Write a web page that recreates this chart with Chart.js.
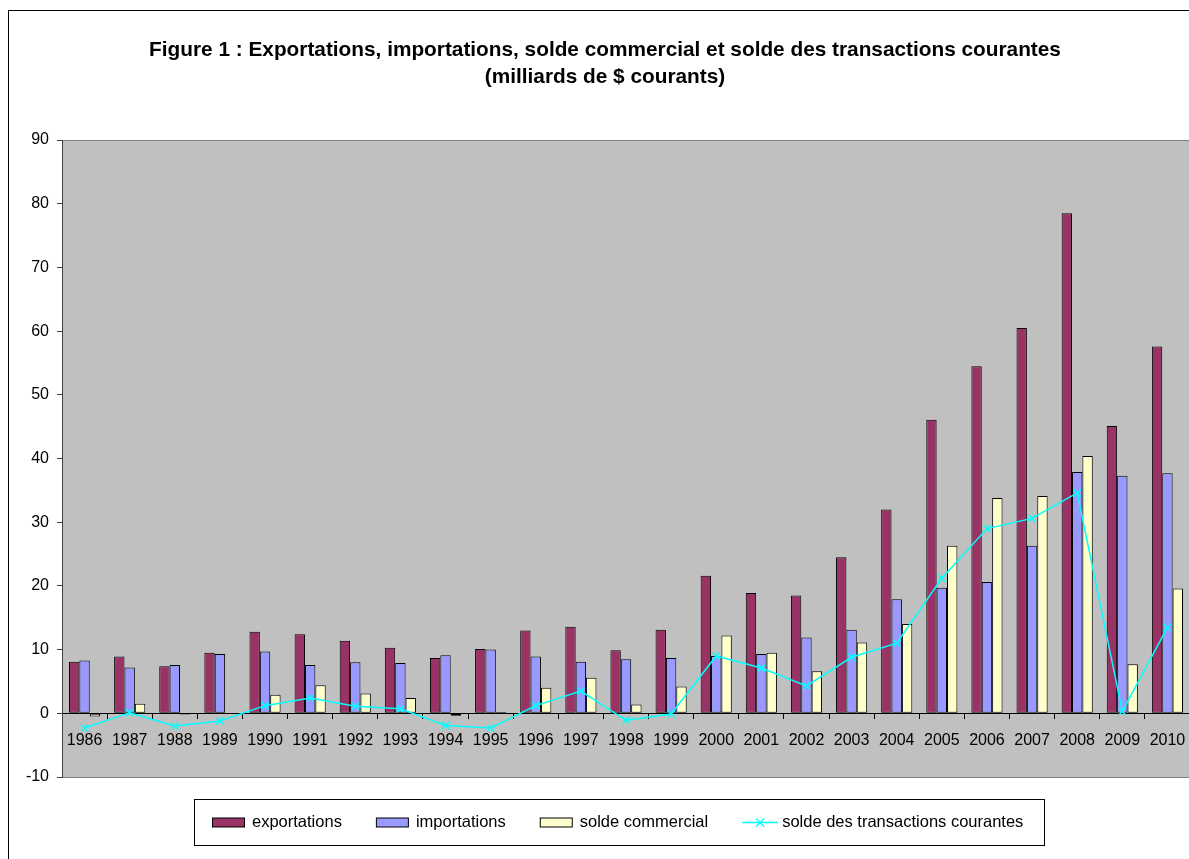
<!DOCTYPE html>
<html>
<head>
<meta charset="utf-8">
<script src="https://cdn.jsdelivr.net/npm/chart.js@4.4.1/dist/chart.umd.min.js"></script>
<style>
html, body { margin: 0; padding: 0; background: #fff; overflow: hidden; }
#wrap { width: 1210px; height: 859px; position: relative; }
</style>
</head>
<body>
<div id="wrap"><canvas id="c" width="1210" height="859"></canvas></div>
<script>
const years = ['1986','1987','1988','1989','1990','1991','1992','1993','1994','1995','1996','1997','1998','1999','2000','2001','2002','2003','2004','2005','2006','2007','2008','2009','2010'];
const exportations = [8.1, 8.9, 7.4, 9.5, 12.8, 12.4, 11.4, 10.3, 8.7, 10.1, 13.0, 13.6, 9.9, 13.1, 21.6, 18.9, 18.5, 24.5, 32.0, 46.1, 54.5, 60.5, 78.5, 45.1, 57.6];
const importations = [8.3, 7.2, 7.6, 9.3, 9.7, 7.6, 8.0, 7.9, 9.1, 10.0, 8.9, 8.1, 8.5, 8.7, 9.0, 9.3, 11.9, 13.1, 17.9, 19.7, 20.6, 26.3, 37.9, 37.3, 37.7];
const soldeCommercial = [-0.5, 1.5, -0.2, 0, 2.9, 4.4, 3.1, 2.4, -0.4, 0.2, 4.0, 5.6, 1.4, 4.2, 12.2, 9.5, 6.6, 11.1, 14.0, 26.3, 33.8, 34.1, 40.4, 7.7, 19.6];
const soldeTransactions = [-2.3, 0.1, -2.0, -1.2, 1.2, 2.4, 1.1, 0.7, -1.9, -2.3, 1.2, 3.5, -1.1, -0.1, 9.0, 7.1, 4.3, 8.8, 11.0, 21.2, 29.0, 30.6, 34.6, 0.3, 13.5];
const titleLines = ['Figure 1 : Exportations, importations, solde commercial et solde des transactions courantes', '(milliards de $ courants)'];
const seriesNames = ['exportations', 'importations', 'solde commercial', 'solde des transactions courantes'];
const yMin = -10, yMax = 90, yStep = 10;

const FONT = '"Liberation Sans", Arial, sans-serif';
const colors = ['#993366', '#9999FF', '#FFFFCC', '#00FFFF'];

const decorPlugin = {
  id: 'decor',
  beforeDraw(chart) {
    const ctx = chart.ctx, a = chart.chartArea;
    ctx.save();
    ctx.strokeStyle = '#000';
    ctx.lineWidth = 1;
    ctx.strokeRect(8.5, 10.5, 1193, 900);
    ctx.fillStyle = '#C0C0C0';
    ctx.fillRect(a.left, a.top, a.right - a.left, a.bottom - a.top);
    ctx.strokeStyle = '#808080';
    ctx.strokeRect(a.left + 0.5, a.top + 0.5, a.right - a.left, a.bottom - a.top);
    ctx.fillStyle = '#000';
    ctx.font = 'bold 20.8px ' + FONT;
    ctx.textAlign = 'center';
    ctx.textBaseline = 'middle';
    ctx.fillText(titleLines[0], 605, 50);
    ctx.fillText(titleLines[1], 605, 77);
    ctx.restore();
  },
  afterDraw(chart) {
    const ctx = chart.ctx;
    ctx.save();
    const bx = 194.5, by = 799.5, bw = 850, bh = 46;
    ctx.fillStyle = '#fff';
    ctx.fillRect(bx, by, bw, bh);
    ctx.strokeStyle = '#000';
    ctx.lineWidth = 1;
    ctx.strokeRect(bx, by, bw, bh);
    ctx.font = '16.5px ' + FONT;
    ctx.textBaseline = 'middle';
    ctx.textAlign = 'left';
    const cy = 822.5;
    let x = 212;
    chart.data.datasets.forEach((ds, i) => {
      if (ds.type === 'line') {
        ctx.strokeStyle = ds.borderColor;
        ctx.lineWidth = 1.5;
        ctx.beginPath();
        ctx.moveTo(x, cy); ctx.lineTo(x + 36, cy);
        ctx.stroke();
        const mx = x + 18, r = 4;
        ctx.beginPath();
        ctx.moveTo(mx - r, cy - r); ctx.lineTo(mx + r, cy + r);
        ctx.moveTo(mx - r, cy + r); ctx.lineTo(mx + r, cy - r);
        ctx.stroke();
        x += 40;
      } else {
        ctx.fillStyle = ds.backgroundColor;
        ctx.fillRect(x + 0.5, cy - 4.5, 32, 9);
        ctx.strokeStyle = '#000';
        ctx.lineWidth = 1;
        ctx.strokeRect(x + 0.5, cy - 4.5, 32, 9);
        x += 40;
      }
      ctx.fillStyle = '#000';
      ctx.fillText(ds.label, x, cy);
      x += ctx.measureText(ds.label).width + 34;
    });
    ctx.restore();
  }
};

const barCommon = {
  type: 'bar',
  borderColor: '#000',
  borderWidth: 1,
  borderSkipped: false,
  categoryPercentage: 0.69,
  barPercentage: 1.0,
  order: 1
};

new Chart(document.getElementById('c'), {
  data: {
    labels: years,
    datasets: [
      Object.assign({}, barCommon, { label: seriesNames[0], data: exportations, backgroundColor: colors[0] }),
      Object.assign({}, barCommon, { label: seriesNames[1], data: importations, backgroundColor: colors[1] }),
      Object.assign({}, barCommon, { label: seriesNames[2], data: soldeCommercial, backgroundColor: colors[2] }),
      {
        type: 'line', label: seriesNames[3], data: soldeTransactions,
        borderColor: colors[3], backgroundColor: colors[3], borderWidth: 1.5,
        pointStyle: 'crossRot', pointRadius: 5, pointBorderWidth: 1.5,
        pointBorderColor: colors[3], pointBackgroundColor: colors[3],
        tension: 0, fill: false, order: 0
      }
    ]
  },
  options: {
    responsive: false,
    animation: false,
    devicePixelRatio: 1,
    layout: { padding: { left: 0, right: 20, top: 140, bottom: 82 } },
    plugins: {
      legend: { display: false },
      title: { display: false },
      tooltip: { enabled: false }
    },
    scales: {
      x: {
        type: 'category',
        position: { y: 0 },
        offset: true,
        grid: { offset: true, drawOnChartArea: false, drawTicks: true, tickLength: 5, color: '#000' },
        border: { display: true, color: '#000', width: 1 },
        ticks: { font: { family: FONT, size: 16 }, color: '#000', padding: 13, maxRotation: 0, autoSkip: false }
      },
      y: {
        min: yMin, max: yMax,
        ticks: { stepSize: yStep, font: { family: FONT, size: 16 }, color: '#000', padding: 8 },
        grid: { drawOnChartArea: false, drawTicks: true, tickLength: 5, color: '#404040' },
        border: { display: true, color: '#404040', width: 1 },
        afterFit(scale) { scale.width = 62; }
      }
    }
  },
  plugins: [decorPlugin]
});
</script>
</body>
</html>
